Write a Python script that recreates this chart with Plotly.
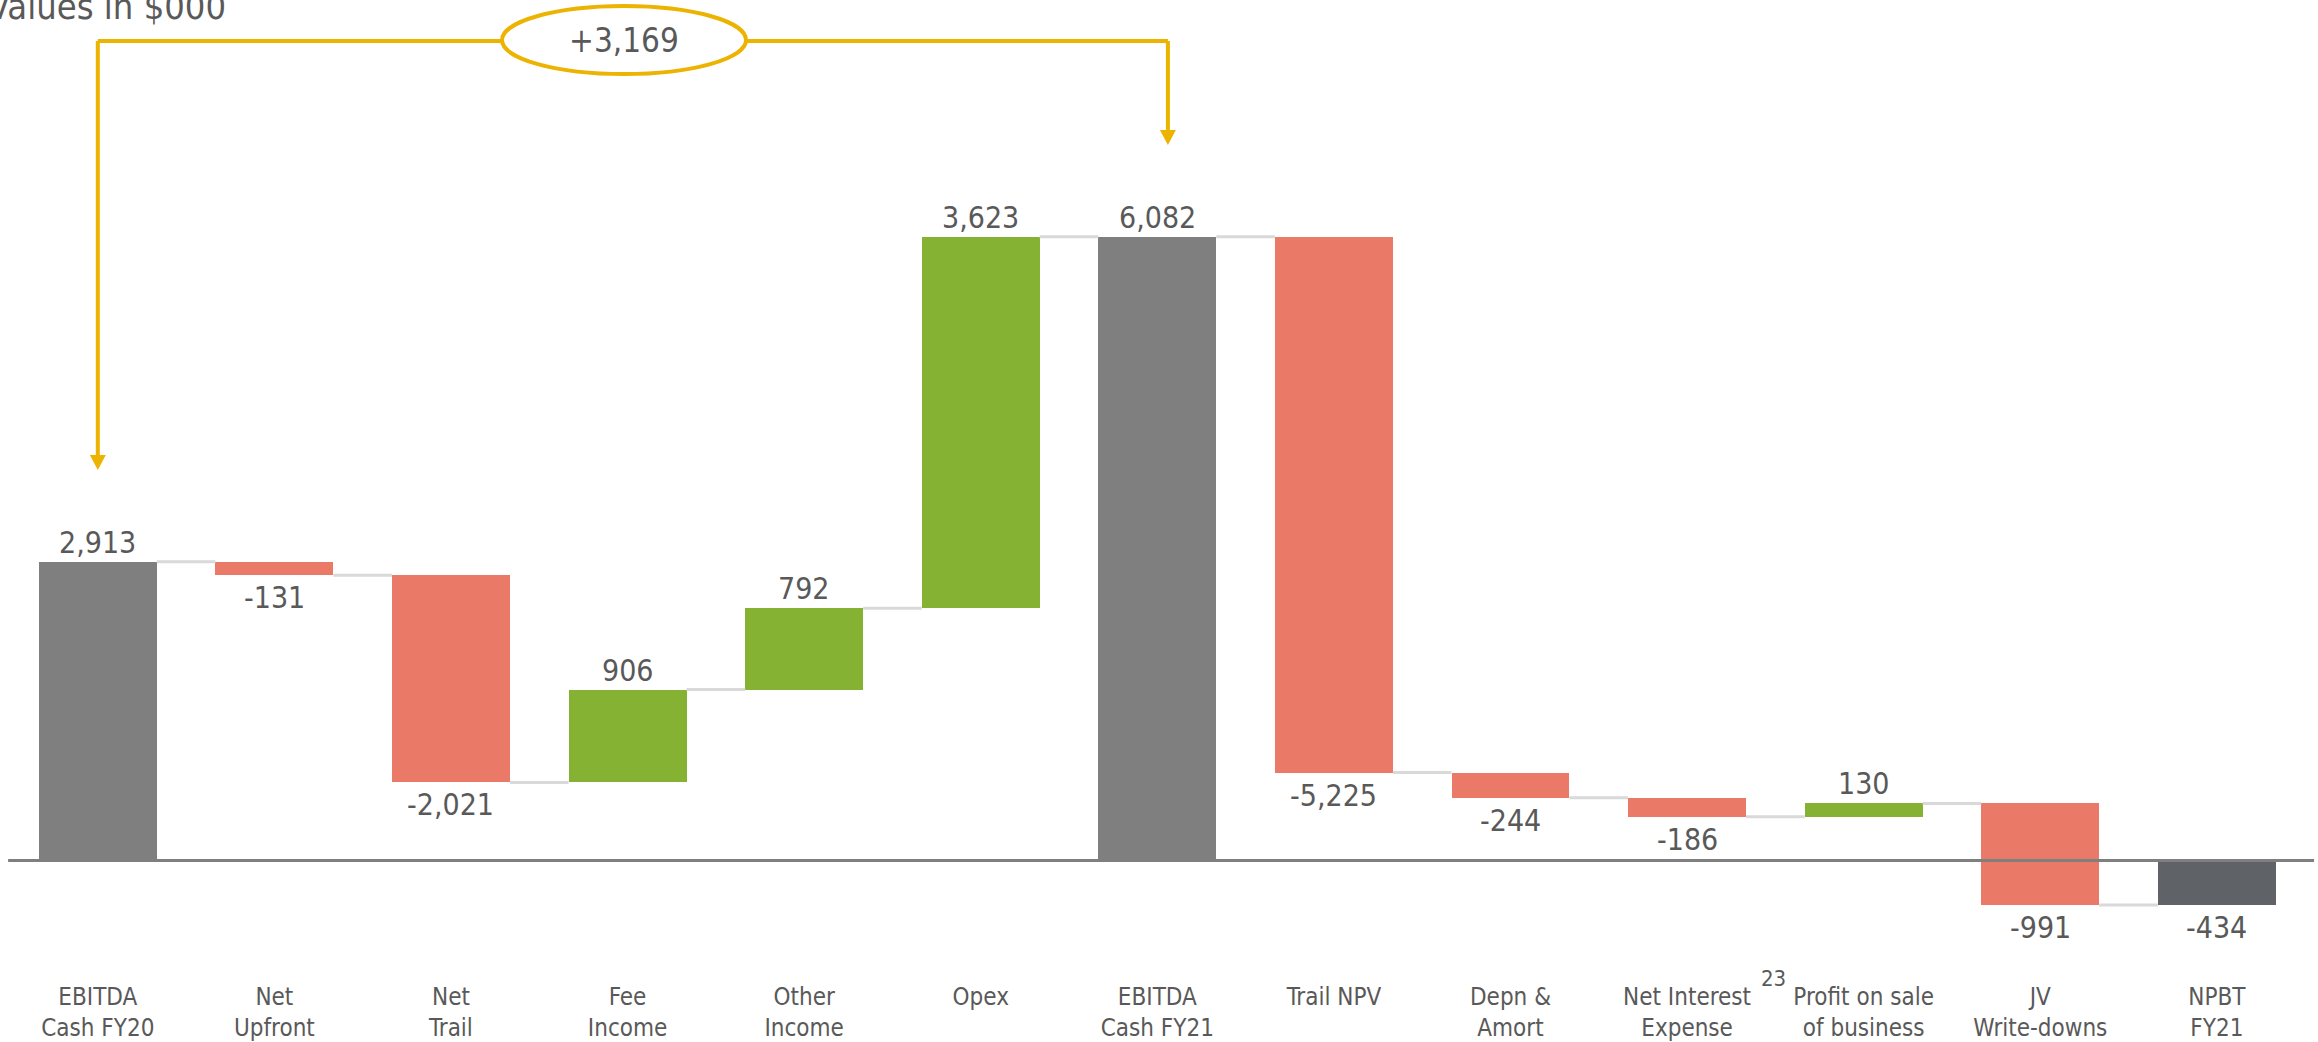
import plotly.graph_objects as go

# ---- data -------------------------------------------------------------
categories = [
    "EBITDA<br>Cash FY20", "Net<br>Upfront", "Net<br>Trail", "Fee<br>Income",
    "Other<br>Income", "Opex", "EBITDA<br>Cash FY21", "Trail NPV",
    "Depn &<br>Amort", "Net Interest<br>Expense", "Profit on sale<br>of business",
    "JV<br>Write-downs", "NPBT<br>FY21",
]
values = [2913, -131, -2021, 906, 792, 3623, 6082, -5225, -244, -186, 130, -991, -434]
measures = ["total", "delta", "delta", "delta", "delta", "delta", "total",
            "delta", "delta", "delta", "delta", "delta", "total"]
unit_note = "Values in $000"
footnote = "23"

# ---- styling ----------------------------------------------------------
FONT = "DejaVu Sans Condensed, DejaVu Sans, sans-serif"
TEXT = "#595959"
GREY = "#7f7f7f"
DARK = "#5f6368"
RED = "#eb7967"
GREEN = "#86b233"
GOLD = "#ecb300"
CONNECT = "#d9d9d9"
BAR_W = 0.668

# ---- waterfall geometry ---------------------------------------------
bases, heights, colors = [], [], []
levels = []
cum = 0
for i, (v, m) in enumerate(zip(values, measures)):
    if m == "total":
        bases.append(0)
        heights.append(v)
        cum = v
        colors.append(DARK if i == len(values) - 1 else GREY)
    else:
        bases.append(cum)
        heights.append(v)
        cum += v
        colors.append(GREEN if v > 0 else RED)
    levels.append(cum)

x = list(range(len(values)))

fig = go.Figure()
fig.add_trace(go.Bar(
    x=x, y=heights, base=bases, width=BAR_W,
    marker=dict(color=colors, line=dict(width=0)),
    hoverinfo="skip", showlegend=False,
))

# connector lines between neighbouring bars
for i in range(len(values) - 1):
    fig.add_trace(go.Scatter(
        x=[i + BAR_W / 2, i + 1 - BAR_W / 2], y=[levels[i], levels[i]],
        mode="lines", line=dict(color=CONNECT, width=3),
        hoverinfo="skip", showlegend=False,
    ))

# value labels
annotations = []
for i, (v, m) in enumerate(zip(values, measures)):
    top = max(bases[i], bases[i] + heights[i])
    bottom = min(bases[i], bases[i] + heights[i])
    if v >= 0:
        annotations.append(dict(x=i, y=top, text=f"{v:,}", showarrow=False,
                                xref="x", yref="y", yanchor="bottom", yshift=0,
                                font=dict(family=FONT, size=30, color=TEXT)))
    else:
        annotations.append(dict(x=i, y=bottom, text=f"{v:,}", showarrow=False,
                                xref="x", yref="y", yanchor="top", yshift=-3,
                                font=dict(family=FONT, size=30, color=TEXT)))

# ---- bracket showing the EBITDA change -----------------------------
i0, i1 = 0, 6
x_left, x_right = i0, i1 + 0.06
gap = 895
tip_left = values[i0] + gap
tip_right = values[i1] + gap
bracket_y = 7990
head_w, head_h = 0.0453, 146

shapes = [
    dict(type="line", xref="x", yref="y", x0=x_left, x1=x_left,
         y0=tip_left + head_h, y1=bracket_y, line=dict(color=GOLD, width=4)),
    dict(type="line", xref="x", yref="y", x0=x_left, x1=x_right,
         y0=bracket_y, y1=bracket_y, line=dict(color=GOLD, width=4)),
    dict(type="line", xref="x", yref="y", x0=x_right, x1=x_right,
         y0=bracket_y, y1=tip_right + head_h, line=dict(color=GOLD, width=4)),
    dict(type="path", xref="x", yref="y",
         path=f"M {x_left - head_w},{tip_left + head_h} L {x_left + head_w},{tip_left + head_h} L {x_left},{tip_left} Z",
         fillcolor=GOLD, line=dict(width=0)),
    dict(type="path", xref="x", yref="y",
         path=f"M {x_right - head_w},{tip_right + head_h} L {x_right + head_w},{tip_right + head_h} L {x_right},{tip_right} Z",
         fillcolor=GOLD, line=dict(width=0)),
    dict(type="circle", xref="x", yref="y", x0=2.289, x1=3.671, y0=7668, y1=8331,
         fillcolor="white", line=dict(color=GOLD, width=4)),
    # zero baseline
    dict(type="line", xref="paper", yref="y", x0=0.0035, x1=0.9983, y0=0, y1=0,
         line=dict(color=GREY, width=3), layer="above"),
]

annotations.append(dict(x=2.98, y=8000, xref="x", yref="y", showarrow=False,
                        text=f"+{values[i1] - values[i0]:,}",
                        font=dict(family=FONT, size=33, color=TEXT)))
annotations.append(dict(x=-0.006, y=1, xref="paper", yref="paper", showarrow=False,
                        xanchor="left", yanchor="top", yshift=16, text=unit_note,
                        font=dict(family=FONT, size=36, color=TEXT)))
annotations.append(dict(x=9.487, y=-0.0072, xref="x", yref="paper", showarrow=False,
                        xanchor="center", yanchor="middle", text=footnote,
                        font=dict(family=FONT, size=22, color=TEXT)))

fig.update_layout(
    width=2318, height=1042,
    margin=dict(l=0, r=0, t=0, b=70, autoexpand=False),
    plot_bgcolor="white", paper_bgcolor="white",
    shapes=shapes, annotations=annotations,
    xaxis=dict(range=[-0.5539, 12.573], tickmode="array", tickvals=x, ticktext=categories,
               showgrid=False, zeroline=False, showline=False, ticks="",
               ticklabelstandoff=8, automargin=False,
               tickfont=dict(family=FONT, size=24, color=TEXT), fixedrange=True),
    yaxis=dict(range=[-1087, 8390], visible=False, showgrid=False, zeroline=False,
               automargin=False, fixedrange=True),
    bargap=0,
)

fig.write_html("out.html")
